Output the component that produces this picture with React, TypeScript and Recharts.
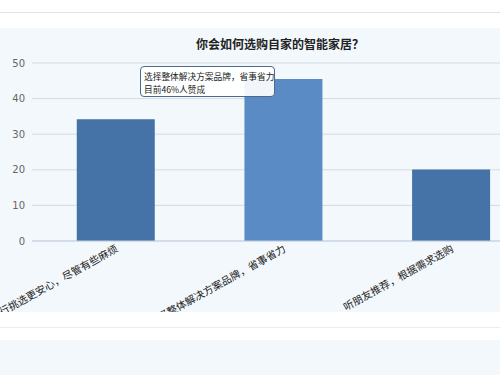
import React from "react";
import { BarChart, Bar, XAxis, YAxis, CartesianGrid, Tooltip, Cell } from "recharts";

const categories = [
  "自行挑选更安心，尽管有些麻烦",
  "选择整体解决方案品牌，省事省力",
  "听朋友推荐，根据需求选购",
];
const values = [34.2, 45.5, 20.1];
const yTicks = [0, 10, 20, 30, 40, 50];
const title = "你会如何选购自家的智能家居？";
const tooltipLines = ["选择整体解决方案品牌，省事省力", "目前46%人赞成"];

const data = categories.map((c, i) => ({ name: c, value: values[i] }));

const baseColor = "#4572A7";
const hoverColor = "#5a8bc5";

const XTick = (props: any) => {
  const { x, y, payload } = props;
  return (
    <g transform={`translate(${x + 3},${y + 2})`}>
      <text
        transform="rotate(-29)"
        textAnchor="end"
        fontSize={10.3}
        fill="#222"
        fontFamily="'Noto Sans CJK SC', sans-serif"
      >
        {payload.value}
      </text>
    </g>
  );
};

const TipContent = () => (
  <div
    style={{
      width: 135,
      height: 31,
      background: "rgba(255,255,255,0.92)",
      border: "1.5px solid #4d6a8e",
      borderRadius: 4,
      boxSizing: "border-box",
      padding: "3px 0 0 3px",
      fontSize: 8.7,
      lineHeight: "13px",
      color: "#222",
      fontFamily: "'Noto Sans CJK SC', sans-serif",
      whiteSpace: "nowrap",
    }}
  >
    {tooltipLines.map((l, i) => (
      <div key={i}>{l}</div>
    ))}
  </div>
);

export default function App() {
  return (
    <div
      style={{
        position: "absolute",
        left: 0,
        top: 0,
        width: 500,
        height: 375,
        overflow: "hidden",
        background: "#ffffff",
      }}
    >
      <div style={{ position: "absolute", left: 0, top: 12, width: 500, height: 1, background: "#e2e2e2" }} />
      <div style={{ position: "absolute", left: 0, top: 28, width: 500, height: 284, background: "#f2f8fc" }} />
      <div style={{ position: "absolute", left: 0, top: 327, width: 500, height: 1, background: "#ececec" }} />
      <div style={{ position: "absolute", left: 0, top: 340, width: 500, height: 35, background: "#f2f8fc" }} />
      <div
        style={{
          position: "absolute",
          left: 0,
          top: 35,
          width: 560,
          textAlign: "center",
          fontSize: 12,
          fontWeight: "bold",
          color: "#222",
          fontFamily: "'Noto Sans CJK SC', sans-serif",
        }}
      >
        {title}
      </div>
      <div style={{ position: "absolute", left: 0, top: 28 }}>
        <BarChart
          width={540}
          height={284}
          data={data}
          margin={{ top: 35, right: 5, left: 0, bottom: 0 }}
          barCategoryGap="26.7%"
        >
          <CartesianGrid vertical={false} stroke="#d6dbe0" strokeWidth={1} />
          <YAxis
            width={32}
            domain={[0, 50]}
            ticks={yTicks}
            axisLine={false}
            tickLine={false}
            tickSize={0}
            tickMargin={7}
            tick={{ fontSize: 10, fill: "#666", fontFamily: "'DejaVu Sans', sans-serif" }}
          />
          <XAxis
            dataKey="name"
            height={71}
            interval={0}
            axisLine={{ stroke: "#c0d0e0" }}
            tickLine={false}
            tick={<XTick />}
          />
          <Tooltip
            active={true}
            defaultIndex={1}
            cursor={false}
            position={{ x: 140, y: 38 }}
            content={<TipContent />}
            isAnimationActive={false}
            wrapperStyle={{ transition: "none" }}
          />
          <Bar dataKey="value" isAnimationActive={false}>
            {data.map((d, i) => (
              <Cell key={i} fill={i === 1 ? hoverColor : baseColor} />
            ))}
          </Bar>
        </BarChart>
      </div>
    </div>
  );
}
